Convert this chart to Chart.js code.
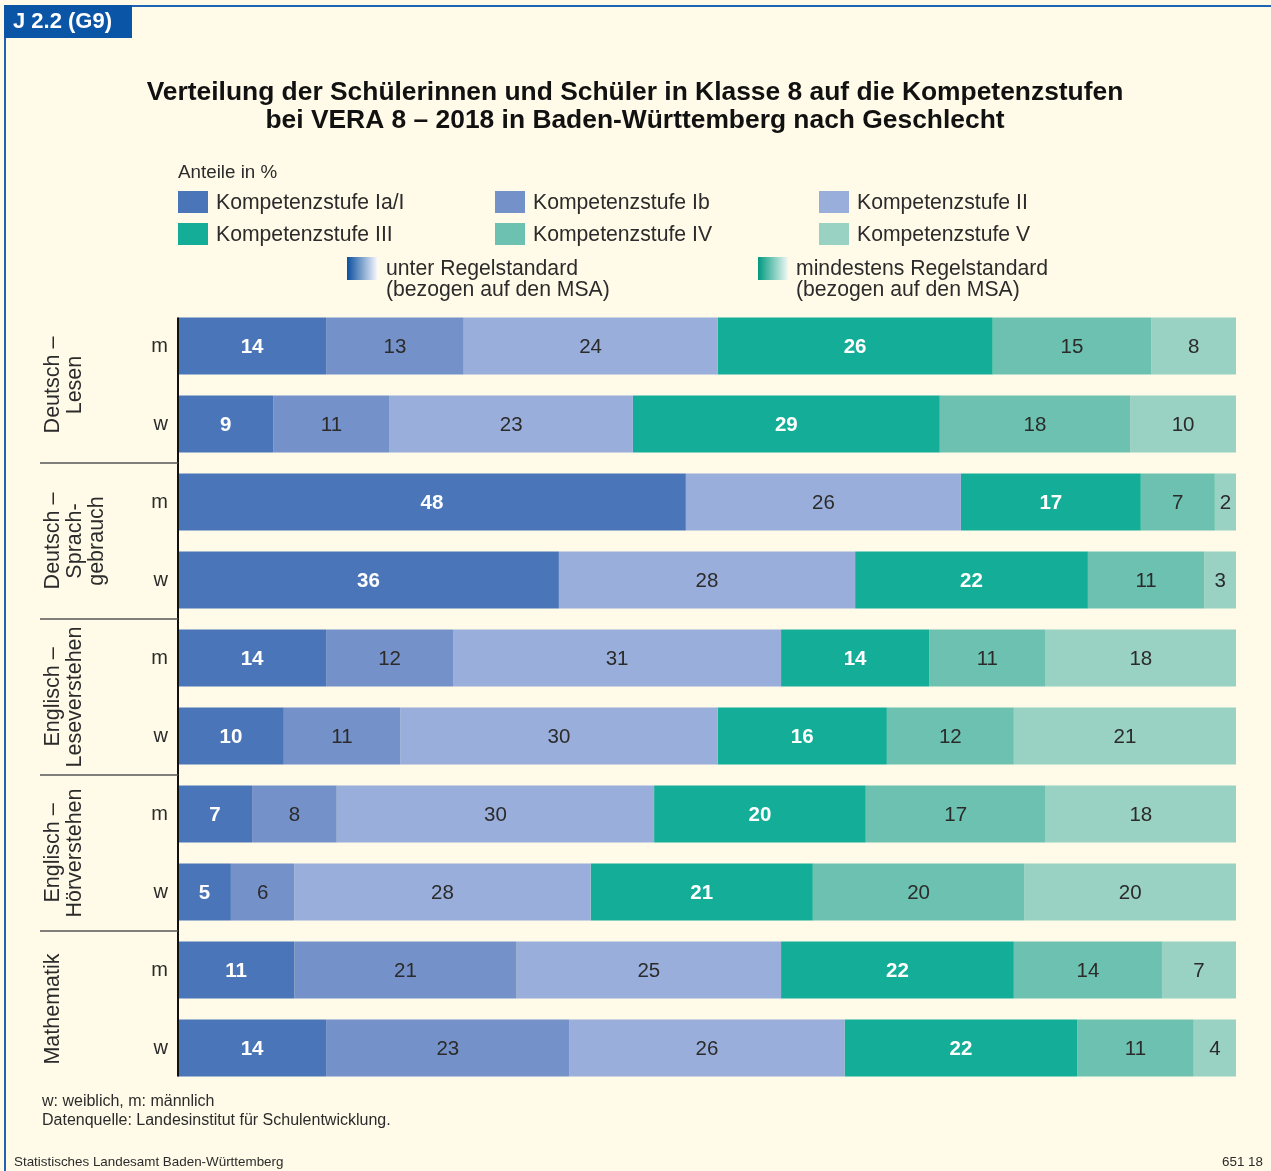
<!DOCTYPE html>
<html lang="de">
<head>
  <meta charset="UTF-8">
  <title>Kompetenzstufen VERA 8 – 2018</title>
  <style>
    body { margin: 0; background: #fffbe8; }
    #wrap { position: relative; width: 1271px; height: 1171px; }
  </style>
  <script src="https://cdn.jsdelivr.net/npm/chart.js"></script>
</head>
<body>
  <div id="wrap"><canvas id="chart" width="1271" height="1171"></canvas></div>

  <script>
    // Kategorien (je Fach: m, w)
    const genders = ['m', 'w', 'm', 'w', 'm', 'w', 'm', 'w', 'm', 'w'];
    const subjects = [
      ['Deutsch –', 'Lesen'],
      ['Deutsch –', 'Sprach-', 'gebrauch'],
      ['Englisch –', 'Leseverstehen'],
      ['Englisch –', 'Hörverstehen'],
      ['Mathematik']
    ];

    // Anteile in %
    const stufeIaI = [14, 9, 48, 36, 14, 10, 7, 5, 11, 14];
    const stufeIb  = [13, 11, 0, 0, 12, 11, 8, 6, 21, 23];
    const stufeII  = [24, 23, 26, 28, 31, 30, 30, 28, 25, 26];
    const stufeIII = [26, 29, 17, 22, 14, 16, 20, 21, 22, 22];
    const stufeIV  = [15, 18, 7, 11, 11, 12, 17, 20, 14, 11];
    const stufeV   = [8, 10, 2, 3, 18, 21, 18, 20, 7, 4];

    const seriesNames = ['Kompetenzstufe Ia/I', 'Kompetenzstufe Ib', 'Kompetenzstufe II',
                         'Kompetenzstufe III', 'Kompetenzstufe IV', 'Kompetenzstufe V'];
    const colors = ['#4a76b9', '#7591c9', '#9aaedb', '#14ae98', '#6cc1b0', '#99d1c2'];
    const FONT = '"Liberation Sans", Arial, sans-serif';
    const TEXT = '#2b2b2b';

    // background, frame, title, legend, footer
    const decor = {
      id: 'decor',
      beforeDraw(chart) {
        const c = chart.ctx;
        c.save();
        c.fillStyle = '#fffbe8';
        c.fillRect(0, 0, chart.width, chart.height);

        // frame
        c.fillStyle = '#1f63b5';
        c.fillRect(4, 5, 1267, 2);
        c.fillRect(4, 5, 2, 1166);
        c.fillStyle = '#0a55a5';
        c.fillRect(4, 5, 128, 33);
        c.fillStyle = '#fff';
        c.font = 'bold 22px ' + FONT;
        c.textBaseline = 'middle';
        c.fillText('J 2.2 (G9)', 13, 22);

        // title
        c.fillStyle = '#111';
        c.textAlign = 'center';
        c.font = 'bold 26.4px ' + FONT;
        c.fillText('Verteilung der Schülerinnen und Schüler in Klasse 8 auf die Kompetenzstufen', 635, 93);
        c.fillText('bei VERA 8 – 2018 in Baden-Württemberg nach Geschlecht', 635, 121);

        // legend
        c.textAlign = 'left';
        c.fillStyle = TEXT;
        c.font = '18.8px ' + FONT;
        c.fillText('Anteile in %', 178, 173);
        const cols = [178, 495, 819];
        c.font = '21.2px ' + FONT;
        seriesNames.forEach((name, i) => {
          const x = cols[i % 3];
          const y = i < 3 ? 202 : 234;
          c.fillStyle = colors[i];
          c.fillRect(x, y - 11, 30, 22);
          c.fillStyle = TEXT;
          c.fillText(name, x + 38, y + 1);
        });

        const g1 = c.createLinearGradient(347, 0, 377, 0);
        g1.addColorStop(0, '#0a4f9f');
        g1.addColorStop(1, '#f4f6fc');
        c.fillStyle = g1;
        c.fillRect(347, 257, 30, 23);
        const g2 = c.createLinearGradient(758, 0, 788, 0);
        g2.addColorStop(0, '#009a80');
        g2.addColorStop(1, '#f0f8f4');
        c.fillStyle = g2;
        c.fillRect(758, 257, 30, 23);
        c.fillStyle = TEXT;
        c.fillText('unter Regelstandard', 386, 269);
        c.fillText('(bezogen auf den MSA)', 386, 290);
        c.fillText('mindestens Regelstandard', 796, 269);
        c.fillText('(bezogen auf den MSA)', 796, 290);

        // footer
        c.font = '16px ' + FONT;
        c.fillText('w: weiblich, m: männlich', 42, 1102);
        c.fillText('Datenquelle: Landesinstitut für Schulentwicklung.', 42, 1121);
        c.font = '13.4px ' + FONT;
        c.fillText('Statistisches Landesamt Baden-Württemberg', 14, 1162);
        c.textAlign = 'right';
        c.fillText('651 18', 1263, 1162);
        c.restore();
      },
      afterDraw(chart) {
        const c = chart.ctx;
        const y = chart.scales.y;
        const slot = y.getPixelForValue(1) - y.getPixelForValue(0);
        const area = chart.chartArea;
        c.save();
        // axis line
        const first = chart.getDatasetMeta(0).data[0];
        const last = chart.getDatasetMeta(0).data[genders.length - 1];
        c.strokeStyle = '#111';
        c.lineWidth = 2;
        c.beginPath();
        c.moveTo(area.left, first.y - first.height / 2);
        c.lineTo(area.left, last.y + last.height / 2);
        c.stroke();

        // group separators and subject labels
        c.strokeStyle = '#555';
        c.lineWidth = 1.5;
        c.fillStyle = TEXT;
        c.font = '21.5px ' + FONT;
        c.textAlign = 'center';
        c.textBaseline = 'middle';
        subjects.forEach((lines, g) => {
          if (g > 0) {
            const sy = y.getPixelForValue(g * 2) - slot / 2;
            c.beginPath();
            c.moveTo(40, sy);
            c.lineTo(area.left, sy);
            c.stroke();
          }
          const cy = (y.getPixelForValue(g * 2) + y.getPixelForValue(g * 2 + 1)) / 2;
          lines.forEach((txt, k) => {
            c.save();
            c.translate(53 + k * 22, cy);
            c.rotate(-Math.PI / 2);
            c.fillText(txt, 0, 0);
            c.restore();
          });
        });
        c.restore();
      }
    };

    // values inside the segments
    const segmentLabels = {
      id: 'segmentLabels',
      afterDatasetsDraw(chart) {
        const c = chart.ctx;
        c.save();
        c.textAlign = 'center';
        c.textBaseline = 'middle';
        chart.data.datasets.forEach((ds, i) => {
          const strong = i === 0 || i === 3;
          c.font = (strong ? 'bold ' : '') + '20.5px ' + FONT;
          c.fillStyle = strong ? '#ffffff' : TEXT;
          chart.getDatasetMeta(i).data.forEach((el, j) => {
            const v = ds.data[j];
            if (!v) return;
            c.fillText(String(v), (el.x + el.base) / 2, el.y + 1);
          });
        });
        c.restore();
      }
    };

    const seriesData = [stufeIaI, stufeIb, stufeII, stufeIII, stufeIV, stufeV];

    new Chart(document.getElementById('chart'), {
      type: 'bar',
      data: {
        labels: genders,
        datasets: seriesData.map((d, i) => ({
          label: seriesNames[i],
          data: d,
          backgroundColor: colors[i],
          borderWidth: 0,
          categoryPercentage: 1,
          barPercentage: 0.73
        }))
      },
      options: {
        indexAxis: 'y',
        responsive: false,
        animation: false,
        layout: { padding: { left: 0, right: 35, top: 307, bottom: 84 } },
        plugins: {
          legend: { display: false },
          title: { display: false },
          tooltip: { enabled: false }
        },
        scales: {
          x: { stacked: true, min: 0, max: 100, display: false },
          y: {
            stacked: true,
            grid: { display: false, drawTicks: false },
            border: { display: false },
            ticks: { color: TEXT, font: { family: FONT, size: 20 }, padding: 10 },
            afterFit(scale) { scale.width = 178; }
          }
        }
      },
      plugins: [decor, segmentLabels]
    });
  </script>
</body>
</html>
